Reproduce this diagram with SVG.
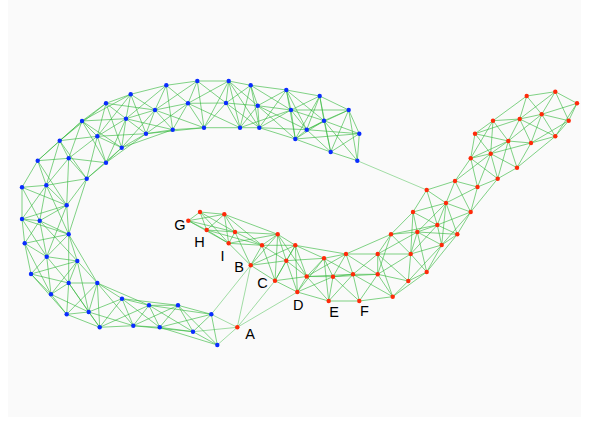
<svg xmlns="http://www.w3.org/2000/svg" width="589" height="425" viewBox="0 0 589 425">
<style>
.e line{stroke:#34b83c;stroke-opacity:0.62;stroke-width:1}
.x line{stroke:#34b83c;stroke-opacity:0.45;stroke-width:1}
.bn{fill:#0a2cff}
.rn{fill:#ff2a0a}
.lb{font-family:"Liberation Sans",Arial,sans-serif;font-size:14.5px;fill:#000;text-anchor:middle}
</style>
<rect x="0" y="0" width="589" height="425" fill="#ffffff"/>
<rect x="8" y="0" width="573" height="417" fill="#fafafa"/>
<g id="connectors">
<g class="e">
<line x1="357.3" y1="160.7" x2="359.3" y2="133.7"/>
<line x1="357.3" y1="160.7" x2="330.7" y2="152"/>
<line x1="357.3" y1="160.7" x2="324" y2="120.7"/>
<line x1="357.3" y1="160.7" x2="348.7" y2="110"/>
<line x1="359.3" y1="133.7" x2="348.7" y2="110"/>
<line x1="359.3" y1="133.7" x2="330.7" y2="152"/>
<line x1="359.3" y1="133.7" x2="324" y2="120.7"/>
<line x1="359.3" y1="133.7" x2="306.7" y2="129.7"/>
<line x1="359.3" y1="133.7" x2="295.3" y2="139"/>
<line x1="348.7" y1="110" x2="324" y2="120.7"/>
<line x1="348.7" y1="110" x2="319.7" y2="96"/>
<line x1="348.7" y1="110" x2="306.7" y2="129.7"/>
<line x1="348.7" y1="110" x2="330.7" y2="152"/>
<line x1="348.7" y1="110" x2="291" y2="110"/>
<line x1="330.7" y1="152" x2="324" y2="120.7"/>
<line x1="330.7" y1="152" x2="306.7" y2="129.7"/>
<line x1="330.7" y1="152" x2="295.3" y2="139"/>
<line x1="330.7" y1="152" x2="319.7" y2="96"/>
<line x1="324" y1="120.7" x2="319.7" y2="96"/>
<line x1="324" y1="120.7" x2="306.7" y2="129.7"/>
<line x1="324" y1="120.7" x2="295.3" y2="139"/>
<line x1="324" y1="120.7" x2="291" y2="110"/>
<line x1="324" y1="120.7" x2="286.3" y2="90"/>
<line x1="319.7" y1="96" x2="306.7" y2="129.7"/>
<line x1="319.7" y1="96" x2="291" y2="110"/>
<line x1="319.7" y1="96" x2="286.3" y2="90"/>
<line x1="319.7" y1="96" x2="295.3" y2="139"/>
<line x1="306.7" y1="129.7" x2="295.3" y2="139"/>
<line x1="306.7" y1="129.7" x2="291" y2="110"/>
<line x1="306.7" y1="129.7" x2="286.3" y2="90"/>
<line x1="306.7" y1="129.7" x2="259.3" y2="127.7"/>
<line x1="306.7" y1="129.7" x2="257.7" y2="105.7"/>
<line x1="295.3" y1="139" x2="291" y2="110"/>
<line x1="295.3" y1="139" x2="259.3" y2="127.7"/>
<line x1="295.3" y1="139" x2="257.7" y2="105.7"/>
<line x1="295.3" y1="139" x2="286.3" y2="90"/>
<line x1="291" y1="110" x2="286.3" y2="90"/>
<line x1="291" y1="110" x2="259.3" y2="127.7"/>
<line x1="291" y1="110" x2="257.7" y2="105.7"/>
<line x1="291" y1="110" x2="250.7" y2="85.3"/>
<line x1="291" y1="110" x2="240" y2="127.7"/>
<line x1="286.3" y1="90" x2="257.7" y2="105.7"/>
<line x1="286.3" y1="90" x2="250.7" y2="85.3"/>
<line x1="286.3" y1="90" x2="259.3" y2="127.7"/>
<line x1="259.3" y1="127.7" x2="257.7" y2="105.7"/>
<line x1="259.3" y1="127.7" x2="250.7" y2="85.3"/>
<line x1="259.3" y1="127.7" x2="240" y2="127.7"/>
<line x1="259.3" y1="127.7" x2="226" y2="103"/>
<line x1="259.3" y1="127.7" x2="228.7" y2="81"/>
<line x1="257.7" y1="105.7" x2="250.7" y2="85.3"/>
<line x1="257.7" y1="105.7" x2="240" y2="127.7"/>
<line x1="257.7" y1="105.7" x2="228.7" y2="81"/>
<line x1="257.7" y1="105.7" x2="226" y2="103"/>
<line x1="250.7" y1="85.3" x2="228.7" y2="81"/>
<line x1="250.7" y1="85.3" x2="226" y2="103"/>
<line x1="250.7" y1="85.3" x2="240" y2="127.7"/>
<line x1="240" y1="127.7" x2="226" y2="103"/>
<line x1="240" y1="127.7" x2="228.7" y2="81"/>
<line x1="240" y1="127.7" x2="204" y2="127.7"/>
<line x1="240" y1="127.7" x2="188" y2="103.3"/>
<line x1="228.7" y1="81" x2="226" y2="103"/>
<line x1="228.7" y1="81" x2="197.3" y2="81"/>
<line x1="228.7" y1="81" x2="188" y2="103.3"/>
<line x1="228.7" y1="81" x2="204" y2="127.7"/>
<line x1="226" y1="103" x2="204" y2="127.7"/>
<line x1="226" y1="103" x2="197.3" y2="81"/>
<line x1="226" y1="103" x2="188" y2="103.3"/>
<line x1="204" y1="127.7" x2="197.3" y2="81"/>
<line x1="204" y1="127.7" x2="188" y2="103.3"/>
<line x1="204" y1="127.7" x2="172.7" y2="129.7"/>
<line x1="204" y1="127.7" x2="155" y2="110"/>
<line x1="204" y1="127.7" x2="146" y2="133.7"/>
<line x1="197.3" y1="81" x2="188" y2="103.3"/>
<line x1="197.3" y1="81" x2="166.3" y2="85.3"/>
<line x1="197.3" y1="81" x2="155" y2="110"/>
<line x1="188" y1="103.3" x2="172.7" y2="129.7"/>
<line x1="188" y1="103.3" x2="166.3" y2="85.3"/>
<line x1="188" y1="103.3" x2="155" y2="110"/>
<line x1="188" y1="103.3" x2="146" y2="133.7"/>
<line x1="172.7" y1="129.7" x2="166.3" y2="85.3"/>
<line x1="172.7" y1="129.7" x2="155" y2="110"/>
<line x1="172.7" y1="129.7" x2="146" y2="133.7"/>
<line x1="172.7" y1="129.7" x2="126" y2="118.7"/>
<line x1="172.7" y1="129.7" x2="121.7" y2="147.7"/>
<line x1="166.3" y1="85.3" x2="155" y2="110"/>
<line x1="166.3" y1="85.3" x2="130.7" y2="94.3"/>
<line x1="166.3" y1="85.3" x2="126" y2="118.7"/>
<line x1="155" y1="110" x2="146" y2="133.7"/>
<line x1="155" y1="110" x2="130.7" y2="94.3"/>
<line x1="155" y1="110" x2="126" y2="118.7"/>
<line x1="155" y1="110" x2="121.7" y2="147.7"/>
<line x1="155" y1="110" x2="106" y2="103.3"/>
<line x1="146" y1="133.7" x2="126" y2="118.7"/>
<line x1="146" y1="133.7" x2="121.7" y2="147.7"/>
<line x1="146" y1="133.7" x2="130.7" y2="94.3"/>
<line x1="146" y1="133.7" x2="106" y2="162.7"/>
<line x1="146" y1="133.7" x2="97.3" y2="136.3"/>
<line x1="130.7" y1="94.3" x2="126" y2="118.7"/>
<line x1="130.7" y1="94.3" x2="106" y2="103.3"/>
<line x1="130.7" y1="94.3" x2="97.3" y2="136.3"/>
<line x1="130.7" y1="94.3" x2="82" y2="121"/>
<line x1="126" y1="118.7" x2="121.7" y2="147.7"/>
<line x1="126" y1="118.7" x2="106" y2="103.3"/>
<line x1="126" y1="118.7" x2="97.3" y2="136.3"/>
<line x1="126" y1="118.7" x2="106" y2="162.7"/>
<line x1="126" y1="118.7" x2="82" y2="121"/>
<line x1="121.7" y1="147.7" x2="97.3" y2="136.3"/>
<line x1="121.7" y1="147.7" x2="106" y2="162.7"/>
<line x1="121.7" y1="147.7" x2="106" y2="103.3"/>
<line x1="121.7" y1="147.7" x2="86.7" y2="178.7"/>
<line x1="121.7" y1="147.7" x2="82" y2="121"/>
<line x1="106" y1="103.3" x2="97.3" y2="136.3"/>
<line x1="106" y1="103.3" x2="82" y2="121"/>
<line x1="106" y1="103.3" x2="59.7" y2="140.7"/>
<line x1="97.3" y1="136.3" x2="106" y2="162.7"/>
<line x1="97.3" y1="136.3" x2="82" y2="121"/>
<line x1="97.3" y1="136.3" x2="68.7" y2="158.3"/>
<line x1="97.3" y1="136.3" x2="59.7" y2="140.7"/>
<line x1="97.3" y1="136.3" x2="86.7" y2="178.7"/>
<line x1="106" y1="162.7" x2="68.7" y2="158.3"/>
<line x1="106" y1="162.7" x2="86.7" y2="178.7"/>
<line x1="106" y1="162.7" x2="82" y2="121"/>
<line x1="82" y1="121" x2="68.7" y2="158.3"/>
<line x1="82" y1="121" x2="59.7" y2="140.7"/>
<line x1="82" y1="121" x2="37.7" y2="160.7"/>
<line x1="68.7" y1="158.3" x2="59.7" y2="140.7"/>
<line x1="68.7" y1="158.3" x2="86.7" y2="178.7"/>
<line x1="68.7" y1="158.3" x2="37.7" y2="160.7"/>
<line x1="68.7" y1="158.3" x2="46.3" y2="185.3"/>
<line x1="68.7" y1="158.3" x2="66.7" y2="205.3"/>
<line x1="59.7" y1="140.7" x2="37.7" y2="160.7"/>
<line x1="59.7" y1="140.7" x2="46.3" y2="185.3"/>
<line x1="59.7" y1="140.7" x2="86.7" y2="178.7"/>
<line x1="86.7" y1="178.7" x2="46.3" y2="185.3"/>
<line x1="86.7" y1="178.7" x2="66.7" y2="205.3"/>
<line x1="86.7" y1="178.7" x2="68.7" y2="234.3"/>
<line x1="37.7" y1="160.7" x2="46.3" y2="185.3"/>
<line x1="37.7" y1="160.7" x2="22" y2="187.3"/>
<line x1="37.7" y1="160.7" x2="66.7" y2="205.3"/>
<line x1="46.3" y1="185.3" x2="22" y2="187.3"/>
<line x1="46.3" y1="185.3" x2="66.7" y2="205.3"/>
<line x1="46.3" y1="185.3" x2="22" y2="219"/>
<line x1="46.3" y1="185.3" x2="39.7" y2="220.7"/>
<line x1="46.3" y1="185.3" x2="68.7" y2="234.3"/>
<line x1="22" y1="187.3" x2="66.7" y2="205.3"/>
<line x1="22" y1="187.3" x2="22" y2="219"/>
<line x1="22" y1="187.3" x2="39.7" y2="220.7"/>
<line x1="66.7" y1="205.3" x2="22" y2="219"/>
<line x1="66.7" y1="205.3" x2="39.7" y2="220.7"/>
<line x1="66.7" y1="205.3" x2="68.7" y2="234.3"/>
<line x1="66.7" y1="205.3" x2="46.7" y2="256.7"/>
<line x1="22" y1="219" x2="39.7" y2="220.7"/>
<line x1="22" y1="219" x2="68.7" y2="234.3"/>
<line x1="22" y1="219" x2="24.7" y2="243.3"/>
<line x1="22" y1="219" x2="46.7" y2="256.7"/>
<line x1="39.7" y1="220.7" x2="68.7" y2="234.3"/>
<line x1="39.7" y1="220.7" x2="24.7" y2="243.3"/>
<line x1="39.7" y1="220.7" x2="46.7" y2="256.7"/>
<line x1="39.7" y1="220.7" x2="77.3" y2="261"/>
<line x1="68.7" y1="234.3" x2="24.7" y2="243.3"/>
<line x1="68.7" y1="234.3" x2="46.7" y2="256.7"/>
<line x1="68.7" y1="234.3" x2="77.3" y2="261"/>
<line x1="68.7" y1="234.3" x2="68.7" y2="283"/>
<line x1="68.7" y1="234.3" x2="97.3" y2="283"/>
<line x1="24.7" y1="243.3" x2="46.7" y2="256.7"/>
<line x1="24.7" y1="243.3" x2="31" y2="274"/>
<line x1="24.7" y1="243.3" x2="51" y2="294.3"/>
<line x1="46.7" y1="256.7" x2="77.3" y2="261"/>
<line x1="46.7" y1="256.7" x2="31" y2="274"/>
<line x1="46.7" y1="256.7" x2="68.7" y2="283"/>
<line x1="46.7" y1="256.7" x2="51" y2="294.3"/>
<line x1="77.3" y1="261" x2="68.7" y2="283"/>
<line x1="77.3" y1="261" x2="97.3" y2="283"/>
<line x1="77.3" y1="261" x2="31" y2="274"/>
<line x1="77.3" y1="261" x2="51" y2="294.3"/>
<line x1="77.3" y1="261" x2="88.7" y2="312"/>
<line x1="31" y1="274" x2="68.7" y2="283"/>
<line x1="31" y1="274" x2="51" y2="294.3"/>
<line x1="31" y1="274" x2="66.7" y2="314.3"/>
<line x1="68.7" y1="283" x2="97.3" y2="283"/>
<line x1="68.7" y1="283" x2="51" y2="294.3"/>
<line x1="68.7" y1="283" x2="88.7" y2="312"/>
<line x1="68.7" y1="283" x2="66.7" y2="314.3"/>
<line x1="68.7" y1="283" x2="99.7" y2="327.3"/>
<line x1="97.3" y1="283" x2="88.7" y2="312"/>
<line x1="97.3" y1="283" x2="66.7" y2="314.3"/>
<line x1="97.3" y1="283" x2="99.7" y2="327.3"/>
<line x1="97.3" y1="283" x2="122" y2="298.7"/>
<line x1="97.3" y1="283" x2="133.3" y2="325.7"/>
<line x1="97.3" y1="283" x2="149" y2="305.3"/>
<line x1="51" y1="294.3" x2="88.7" y2="312"/>
<line x1="51" y1="294.3" x2="66.7" y2="314.3"/>
<line x1="88.7" y1="312" x2="66.7" y2="314.3"/>
<line x1="88.7" y1="312" x2="99.7" y2="327.3"/>
<line x1="88.7" y1="312" x2="122" y2="298.7"/>
<line x1="88.7" y1="312" x2="133.3" y2="325.7"/>
<line x1="66.7" y1="314.3" x2="99.7" y2="327.3"/>
<line x1="99.7" y1="327.3" x2="122" y2="298.7"/>
<line x1="99.7" y1="327.3" x2="133.3" y2="325.7"/>
<line x1="99.7" y1="327.3" x2="149" y2="305.3"/>
<line x1="122" y1="298.7" x2="133.3" y2="325.7"/>
<line x1="122" y1="298.7" x2="149" y2="305.3"/>
<line x1="122" y1="298.7" x2="159.7" y2="327.3"/>
<line x1="122" y1="298.7" x2="178" y2="305.3"/>
<line x1="133.3" y1="325.7" x2="149" y2="305.3"/>
<line x1="133.3" y1="325.7" x2="159.7" y2="327.3"/>
<line x1="133.3" y1="325.7" x2="178" y2="305.3"/>
<line x1="133.3" y1="325.7" x2="193" y2="331.7"/>
<line x1="149" y1="305.3" x2="159.7" y2="327.3"/>
<line x1="149" y1="305.3" x2="178" y2="305.3"/>
<line x1="149" y1="305.3" x2="193" y2="331.7"/>
<line x1="149" y1="305.3" x2="211.3" y2="314.3"/>
<line x1="159.7" y1="327.3" x2="178" y2="305.3"/>
<line x1="159.7" y1="327.3" x2="193" y2="331.7"/>
<line x1="159.7" y1="327.3" x2="211.3" y2="314.3"/>
<line x1="159.7" y1="327.3" x2="217.3" y2="345"/>
<line x1="178" y1="305.3" x2="193" y2="331.7"/>
<line x1="178" y1="305.3" x2="211.3" y2="314.3"/>
<line x1="178" y1="305.3" x2="217.3" y2="345"/>
<line x1="193" y1="331.7" x2="211.3" y2="314.3"/>
<line x1="193" y1="331.7" x2="217.3" y2="345"/>
<line x1="211.3" y1="314.3" x2="217.3" y2="345"/>
</g>
<g class="x">
<line x1="357.3" y1="160.7" x2="426.7" y2="190"/>
<line x1="237.3" y1="327.3" x2="193" y2="331.7"/>
<line x1="237.3" y1="327.3" x2="211.3" y2="314.3"/>
<line x1="237.3" y1="327.3" x2="217.3" y2="345"/>
<line x1="237.3" y1="327.3" x2="250.7" y2="265.3"/>
<line x1="237.3" y1="327.3" x2="275" y2="280.7"/>
<line x1="237.3" y1="327.3" x2="297.3" y2="292"/>
<line x1="211.3" y1="314.3" x2="250.7" y2="265.3"/>
</g>
<g class="e">
<line x1="188.3" y1="220.7" x2="200" y2="212"/>
<line x1="188.3" y1="220.7" x2="206.7" y2="230"/>
<line x1="188.3" y1="220.7" x2="224.3" y2="214.3"/>
<line x1="188.3" y1="220.7" x2="228.7" y2="243.3"/>
<line x1="188.3" y1="220.7" x2="235" y2="232"/>
<line x1="200" y1="212" x2="224.3" y2="214.3"/>
<line x1="200" y1="212" x2="206.7" y2="230"/>
<line x1="200" y1="212" x2="235" y2="232"/>
<line x1="200" y1="212" x2="228.7" y2="243.3"/>
<line x1="224.3" y1="214.3" x2="206.7" y2="230"/>
<line x1="224.3" y1="214.3" x2="235" y2="232"/>
<line x1="224.3" y1="214.3" x2="228.7" y2="243.3"/>
<line x1="224.3" y1="214.3" x2="262" y2="245.3"/>
<line x1="224.3" y1="214.3" x2="277.7" y2="234.3"/>
<line x1="206.7" y1="230" x2="235" y2="232"/>
<line x1="206.7" y1="230" x2="228.7" y2="243.3"/>
<line x1="206.7" y1="230" x2="262" y2="245.3"/>
<line x1="235" y1="232" x2="228.7" y2="243.3"/>
<line x1="235" y1="232" x2="262" y2="245.3"/>
<line x1="235" y1="232" x2="277.7" y2="234.3"/>
<line x1="235" y1="232" x2="250.7" y2="265.3"/>
<line x1="228.7" y1="243.3" x2="262" y2="245.3"/>
<line x1="228.7" y1="243.3" x2="250.7" y2="265.3"/>
<line x1="228.7" y1="243.3" x2="277.7" y2="234.3"/>
<line x1="262" y1="245.3" x2="277.7" y2="234.3"/>
<line x1="262" y1="245.3" x2="250.7" y2="265.3"/>
<line x1="262" y1="245.3" x2="295.3" y2="245.3"/>
<line x1="262" y1="245.3" x2="286.3" y2="260.7"/>
<line x1="262" y1="245.3" x2="275" y2="280.7"/>
<line x1="277.7" y1="234.3" x2="295.3" y2="245.3"/>
<line x1="277.7" y1="234.3" x2="286.3" y2="260.7"/>
<line x1="277.7" y1="234.3" x2="250.7" y2="265.3"/>
<line x1="277.7" y1="234.3" x2="275" y2="280.7"/>
<line x1="277.7" y1="234.3" x2="306.7" y2="276.5"/>
<line x1="250.7" y1="265.3" x2="275" y2="280.7"/>
<line x1="250.7" y1="265.3" x2="286.3" y2="260.7"/>
<line x1="250.7" y1="265.3" x2="295.3" y2="245.3"/>
<line x1="295.3" y1="245.3" x2="286.3" y2="260.7"/>
<line x1="295.3" y1="245.3" x2="306.7" y2="276.5"/>
<line x1="295.3" y1="245.3" x2="324" y2="258.3"/>
<line x1="295.3" y1="245.3" x2="275" y2="280.7"/>
<line x1="295.3" y1="245.3" x2="297.3" y2="292"/>
<line x1="295.3" y1="245.3" x2="346" y2="254"/>
<line x1="286.3" y1="260.7" x2="275" y2="280.7"/>
<line x1="286.3" y1="260.7" x2="306.7" y2="276.5"/>
<line x1="286.3" y1="260.7" x2="297.3" y2="292"/>
<line x1="286.3" y1="260.7" x2="324" y2="258.3"/>
<line x1="275" y1="280.7" x2="297.3" y2="292"/>
<line x1="275" y1="280.7" x2="306.7" y2="276.5"/>
<line x1="306.7" y1="276.5" x2="297.3" y2="292"/>
<line x1="306.7" y1="276.5" x2="324" y2="258.3"/>
<line x1="306.7" y1="276.5" x2="333" y2="276.7"/>
<line x1="306.7" y1="276.5" x2="328.7" y2="301"/>
<line x1="306.7" y1="276.5" x2="346" y2="254"/>
<line x1="306.7" y1="276.5" x2="353" y2="274.3"/>
<line x1="297.3" y1="292" x2="328.7" y2="301"/>
<line x1="297.3" y1="292" x2="333" y2="276.7"/>
<line x1="297.3" y1="292" x2="324" y2="258.3"/>
<line x1="324" y1="258.3" x2="333" y2="276.7"/>
<line x1="324" y1="258.3" x2="346" y2="254"/>
<line x1="324" y1="258.3" x2="353" y2="274.3"/>
<line x1="324" y1="258.3" x2="328.7" y2="301"/>
<line x1="333" y1="276.7" x2="328.7" y2="301"/>
<line x1="333" y1="276.7" x2="346" y2="254"/>
<line x1="333" y1="276.7" x2="353" y2="274.3"/>
<line x1="333" y1="276.7" x2="359.3" y2="301"/>
<line x1="333" y1="276.7" x2="377.7" y2="274.3"/>
<line x1="328.7" y1="301" x2="359.3" y2="301"/>
<line x1="328.7" y1="301" x2="353" y2="274.3"/>
<line x1="346" y1="254" x2="353" y2="274.3"/>
<line x1="346" y1="254" x2="377.7" y2="254"/>
<line x1="346" y1="254" x2="377.7" y2="274.3"/>
<line x1="346" y1="254" x2="391" y2="234.3"/>
<line x1="353" y1="274.3" x2="359.3" y2="301"/>
<line x1="353" y1="274.3" x2="377.7" y2="254"/>
<line x1="353" y1="274.3" x2="377.7" y2="274.3"/>
<line x1="353" y1="274.3" x2="392.7" y2="296.7"/>
<line x1="359.3" y1="301" x2="377.7" y2="274.3"/>
<line x1="359.3" y1="301" x2="392.7" y2="296.7"/>
<line x1="377.7" y1="254" x2="377.7" y2="274.3"/>
<line x1="377.7" y1="254" x2="391" y2="234.3"/>
<line x1="377.7" y1="254" x2="410.7" y2="254"/>
<line x1="377.7" y1="254" x2="408.3" y2="281"/>
<line x1="377.7" y1="254" x2="392.7" y2="296.7"/>
<line x1="377.7" y1="254" x2="417.3" y2="232"/>
<line x1="377.7" y1="274.3" x2="392.7" y2="296.7"/>
<line x1="377.7" y1="274.3" x2="410.7" y2="254"/>
<line x1="377.7" y1="274.3" x2="408.3" y2="281"/>
<line x1="377.7" y1="274.3" x2="391" y2="234.3"/>
<line x1="392.7" y1="296.7" x2="408.3" y2="281"/>
<line x1="392.7" y1="296.7" x2="426.7" y2="272"/>
<line x1="391" y1="234.3" x2="410.7" y2="254"/>
<line x1="391" y1="234.3" x2="413" y2="212"/>
<line x1="391" y1="234.3" x2="417.3" y2="232"/>
<line x1="391" y1="234.3" x2="437.3" y2="225"/>
<line x1="410.7" y1="254" x2="408.3" y2="281"/>
<line x1="410.7" y1="254" x2="417.3" y2="232"/>
<line x1="410.7" y1="254" x2="426.7" y2="272"/>
<line x1="410.7" y1="254" x2="441.7" y2="245"/>
<line x1="410.7" y1="254" x2="437.3" y2="225"/>
<line x1="410.7" y1="254" x2="413" y2="212"/>
<line x1="408.3" y1="281" x2="426.7" y2="272"/>
<line x1="408.3" y1="281" x2="441.7" y2="245"/>
<line x1="413" y1="212" x2="417.3" y2="232"/>
<line x1="413" y1="212" x2="426.7" y2="190"/>
<line x1="413" y1="212" x2="437.3" y2="225"/>
<line x1="413" y1="212" x2="446" y2="203"/>
<line x1="417.3" y1="232" x2="437.3" y2="225"/>
<line x1="417.3" y1="232" x2="441.7" y2="245"/>
<line x1="417.3" y1="232" x2="457.3" y2="234.3"/>
<line x1="417.3" y1="232" x2="446" y2="203"/>
<line x1="417.3" y1="232" x2="426.7" y2="272"/>
<line x1="426.7" y1="272" x2="441.7" y2="245"/>
<line x1="426.7" y1="272" x2="457.3" y2="234.3"/>
<line x1="441.7" y1="245" x2="457.3" y2="234.3"/>
<line x1="441.7" y1="245" x2="437.3" y2="225"/>
<line x1="441.7" y1="245" x2="470.7" y2="212"/>
<line x1="441.7" y1="245" x2="446" y2="203"/>
<line x1="426.7" y1="190" x2="455" y2="181"/>
<line x1="426.7" y1="190" x2="446" y2="203"/>
<line x1="426.7" y1="190" x2="437.3" y2="225"/>
<line x1="437.3" y1="225" x2="446" y2="203"/>
<line x1="437.3" y1="225" x2="457.3" y2="234.3"/>
<line x1="437.3" y1="225" x2="470.7" y2="212"/>
<line x1="457.3" y1="234.3" x2="470.7" y2="212"/>
<line x1="457.3" y1="234.3" x2="446" y2="203"/>
<line x1="446" y1="203" x2="455" y2="181"/>
<line x1="446" y1="203" x2="470.7" y2="212"/>
<line x1="446" y1="203" x2="477.5" y2="187"/>
<line x1="455" y1="181" x2="477.5" y2="187"/>
<line x1="455" y1="181" x2="470.7" y2="158.3"/>
<line x1="455" y1="181" x2="470.7" y2="212"/>
<line x1="455" y1="181" x2="490.7" y2="153.7"/>
<line x1="470.7" y1="212" x2="477.5" y2="187"/>
<line x1="470.7" y1="212" x2="497.7" y2="178.7"/>
<line x1="477.5" y1="187" x2="470.7" y2="158.3"/>
<line x1="477.5" y1="187" x2="497.7" y2="178.7"/>
<line x1="477.5" y1="187" x2="490.7" y2="153.7"/>
<line x1="470.7" y1="158.3" x2="490.7" y2="153.7"/>
<line x1="470.7" y1="158.3" x2="475" y2="133.7"/>
<line x1="470.7" y1="158.3" x2="497.7" y2="178.7"/>
<line x1="470.7" y1="158.3" x2="508.3" y2="141"/>
<line x1="470.7" y1="158.3" x2="493" y2="120.7"/>
<line x1="497.7" y1="178.7" x2="490.7" y2="153.7"/>
<line x1="497.7" y1="178.7" x2="517" y2="167.7"/>
<line x1="497.7" y1="178.7" x2="508.3" y2="141"/>
<line x1="490.7" y1="153.7" x2="475" y2="133.7"/>
<line x1="490.7" y1="153.7" x2="508.3" y2="141"/>
<line x1="490.7" y1="153.7" x2="517" y2="167.7"/>
<line x1="490.7" y1="153.7" x2="493" y2="120.7"/>
<line x1="490.7" y1="153.7" x2="531" y2="143"/>
<line x1="475" y1="133.7" x2="493" y2="120.7"/>
<line x1="475" y1="133.7" x2="508.3" y2="141"/>
<line x1="475" y1="133.7" x2="519.7" y2="119"/>
<line x1="517" y1="167.7" x2="508.3" y2="141"/>
<line x1="517" y1="167.7" x2="531" y2="143"/>
<line x1="517" y1="167.7" x2="555.3" y2="136.3"/>
<line x1="508.3" y1="141" x2="493" y2="120.7"/>
<line x1="508.3" y1="141" x2="531" y2="143"/>
<line x1="508.3" y1="141" x2="519.7" y2="119"/>
<line x1="508.3" y1="141" x2="541.7" y2="114.3"/>
<line x1="493" y1="120.7" x2="519.7" y2="119"/>
<line x1="493" y1="120.7" x2="526.7" y2="96"/>
<line x1="531" y1="143" x2="519.7" y2="119"/>
<line x1="531" y1="143" x2="555.3" y2="136.3"/>
<line x1="531" y1="143" x2="541.7" y2="114.3"/>
<line x1="531" y1="143" x2="568.7" y2="120.7"/>
<line x1="519.7" y1="119" x2="541.7" y2="114.3"/>
<line x1="519.7" y1="119" x2="526.7" y2="96"/>
<line x1="519.7" y1="119" x2="555.3" y2="136.3"/>
<line x1="519.7" y1="119" x2="555.3" y2="91.7"/>
<line x1="555.3" y1="136.3" x2="541.7" y2="114.3"/>
<line x1="555.3" y1="136.3" x2="568.7" y2="120.7"/>
<line x1="555.3" y1="136.3" x2="577" y2="103.3"/>
<line x1="541.7" y1="114.3" x2="526.7" y2="96"/>
<line x1="541.7" y1="114.3" x2="568.7" y2="120.7"/>
<line x1="541.7" y1="114.3" x2="555.3" y2="91.7"/>
<line x1="541.7" y1="114.3" x2="577" y2="103.3"/>
<line x1="526.7" y1="96" x2="555.3" y2="91.7"/>
<line x1="568.7" y1="120.7" x2="577" y2="103.3"/>
<line x1="568.7" y1="120.7" x2="555.3" y2="91.7"/>
<line x1="555.3" y1="91.7" x2="577" y2="103.3"/>
</g>
</g>
<g id="blue-nodes" class="bn">
<g id="b1"><circle cx="357.3" cy="160.7" r="2.2"/></g>
<g id="b2"><circle cx="359.3" cy="133.7" r="2.2"/></g>
<g id="b3"><circle cx="348.7" cy="110" r="2.2"/></g>
<g id="b4"><circle cx="330.7" cy="152" r="2.2"/></g>
<g id="b5"><circle cx="324" cy="120.7" r="2.2"/></g>
<g id="b6"><circle cx="319.7" cy="96" r="2.2"/></g>
<g id="b7"><circle cx="306.7" cy="129.7" r="2.2"/></g>
<g id="b8"><circle cx="295.3" cy="139" r="2.2"/></g>
<g id="b9"><circle cx="291" cy="110" r="2.2"/></g>
<g id="b10"><circle cx="286.3" cy="90" r="2.2"/></g>
<g id="b11"><circle cx="259.3" cy="127.7" r="2.2"/></g>
<g id="b12"><circle cx="257.7" cy="105.7" r="2.2"/></g>
<g id="b13"><circle cx="250.7" cy="85.3" r="2.2"/></g>
<g id="b14"><circle cx="240" cy="127.7" r="2.2"/></g>
<g id="b15"><circle cx="228.7" cy="81" r="2.2"/></g>
<g id="b16"><circle cx="226" cy="103" r="2.2"/></g>
<g id="b17"><circle cx="204" cy="127.7" r="2.2"/></g>
<g id="b18"><circle cx="197.3" cy="81" r="2.2"/></g>
<g id="b19"><circle cx="188" cy="103.3" r="2.2"/></g>
<g id="b20"><circle cx="172.7" cy="129.7" r="2.2"/></g>
<g id="b21"><circle cx="166.3" cy="85.3" r="2.2"/></g>
<g id="b22"><circle cx="155" cy="110" r="2.2"/></g>
<g id="b23"><circle cx="146" cy="133.7" r="2.2"/></g>
<g id="b24"><circle cx="130.7" cy="94.3" r="2.2"/></g>
<g id="b25"><circle cx="126" cy="118.7" r="2.2"/></g>
<g id="b26"><circle cx="121.7" cy="147.7" r="2.2"/></g>
<g id="b27"><circle cx="106" cy="103.3" r="2.2"/></g>
<g id="b28"><circle cx="97.3" cy="136.3" r="2.2"/></g>
<g id="b29"><circle cx="106" cy="162.7" r="2.2"/></g>
<g id="b30"><circle cx="82" cy="121" r="2.2"/></g>
<g id="b31"><circle cx="68.7" cy="158.3" r="2.2"/></g>
<g id="b32"><circle cx="59.7" cy="140.7" r="2.2"/></g>
<g id="b33"><circle cx="86.7" cy="178.7" r="2.2"/></g>
<g id="b34"><circle cx="37.7" cy="160.7" r="2.2"/></g>
<g id="b35"><circle cx="46.3" cy="185.3" r="2.2"/></g>
<g id="b36"><circle cx="22" cy="187.3" r="2.2"/></g>
<g id="b37"><circle cx="66.7" cy="205.3" r="2.2"/></g>
<g id="b38"><circle cx="22" cy="219" r="2.2"/></g>
<g id="b39"><circle cx="39.7" cy="220.7" r="2.2"/></g>
<g id="b40"><circle cx="68.7" cy="234.3" r="2.2"/></g>
<g id="b41"><circle cx="24.7" cy="243.3" r="2.2"/></g>
<g id="b42"><circle cx="46.7" cy="256.7" r="2.2"/></g>
<g id="b43"><circle cx="77.3" cy="261" r="2.2"/></g>
<g id="b44"><circle cx="31" cy="274" r="2.2"/></g>
<g id="b45"><circle cx="68.7" cy="283" r="2.2"/></g>
<g id="b46"><circle cx="97.3" cy="283" r="2.2"/></g>
<g id="b47"><circle cx="51" cy="294.3" r="2.2"/></g>
<g id="b48"><circle cx="88.7" cy="312" r="2.2"/></g>
<g id="b49"><circle cx="66.7" cy="314.3" r="2.2"/></g>
<g id="b50"><circle cx="99.7" cy="327.3" r="2.2"/></g>
<g id="b51"><circle cx="122" cy="298.7" r="2.2"/></g>
<g id="b52"><circle cx="133.3" cy="325.7" r="2.2"/></g>
<g id="b53"><circle cx="149" cy="305.3" r="2.2"/></g>
<g id="b54"><circle cx="159.7" cy="327.3" r="2.2"/></g>
<g id="b55"><circle cx="178" cy="305.3" r="2.2"/></g>
<g id="b56"><circle cx="193" cy="331.7" r="2.2"/></g>
<g id="b57"><circle cx="211.3" cy="314.3" r="2.2"/></g>
<g id="b58"><circle cx="217.3" cy="345" r="2.2"/></g>
</g>
<g id="red-nodes" class="rn">
<g id="nA"><circle cx="237.3" cy="327.3" r="2.2"/></g>
<g id="nG"><circle cx="188.3" cy="220.7" r="2.2"/></g>
<g id="r1"><circle cx="200" cy="212" r="2.2"/></g>
<g id="r2"><circle cx="224.3" cy="214.3" r="2.2"/></g>
<g id="nH"><circle cx="206.7" cy="230" r="2.2"/></g>
<g id="r3"><circle cx="235" cy="232" r="2.2"/></g>
<g id="nI"><circle cx="228.7" cy="243.3" r="2.2"/></g>
<g id="r4"><circle cx="262" cy="245.3" r="2.2"/></g>
<g id="r5"><circle cx="277.7" cy="234.3" r="2.2"/></g>
<g id="nB"><circle cx="250.7" cy="265.3" r="2.2"/></g>
<g id="r6"><circle cx="295.3" cy="245.3" r="2.2"/></g>
<g id="r7"><circle cx="286.3" cy="260.7" r="2.2"/></g>
<g id="nC"><circle cx="275" cy="280.7" r="2.2"/></g>
<g id="r8"><circle cx="306.7" cy="276.5" r="2.2"/></g>
<g id="nD"><circle cx="297.3" cy="292" r="2.2"/></g>
<g id="r9"><circle cx="324" cy="258.3" r="2.2"/></g>
<g id="r10"><circle cx="333" cy="276.7" r="2.2"/></g>
<g id="nE"><circle cx="328.7" cy="301" r="2.2"/></g>
<g id="r11"><circle cx="346" cy="254" r="2.2"/></g>
<g id="r12"><circle cx="353" cy="274.3" r="2.2"/></g>
<g id="nF"><circle cx="359.3" cy="301" r="2.2"/></g>
<g id="r13"><circle cx="377.7" cy="254" r="2.2"/></g>
<g id="r14"><circle cx="377.7" cy="274.3" r="2.2"/></g>
<g id="r15"><circle cx="392.7" cy="296.7" r="2.2"/></g>
<g id="r16"><circle cx="391" cy="234.3" r="2.2"/></g>
<g id="r17"><circle cx="410.7" cy="254" r="2.2"/></g>
<g id="r18"><circle cx="408.3" cy="281" r="2.2"/></g>
<g id="r19"><circle cx="413" cy="212" r="2.2"/></g>
<g id="r20"><circle cx="417.3" cy="232" r="2.2"/></g>
<g id="r21"><circle cx="426.7" cy="272" r="2.2"/></g>
<g id="r22"><circle cx="441.7" cy="245" r="2.2"/></g>
<g id="r23"><circle cx="426.7" cy="190" r="2.2"/></g>
<g id="r24"><circle cx="437.3" cy="225" r="2.2"/></g>
<g id="r25"><circle cx="457.3" cy="234.3" r="2.2"/></g>
<g id="r26"><circle cx="446" cy="203" r="2.2"/></g>
<g id="r27"><circle cx="455" cy="181" r="2.2"/></g>
<g id="r28"><circle cx="470.7" cy="212" r="2.2"/></g>
<g id="r29"><circle cx="477.5" cy="187" r="2.2"/></g>
<g id="r30"><circle cx="470.7" cy="158.3" r="2.2"/></g>
<g id="r31"><circle cx="497.7" cy="178.7" r="2.2"/></g>
<g id="r32"><circle cx="490.7" cy="153.7" r="2.2"/></g>
<g id="r33"><circle cx="475" cy="133.7" r="2.2"/></g>
<g id="r34"><circle cx="517" cy="167.7" r="2.2"/></g>
<g id="r35"><circle cx="508.3" cy="141" r="2.2"/></g>
<g id="r36"><circle cx="493" cy="120.7" r="2.2"/></g>
<g id="r37"><circle cx="531" cy="143" r="2.2"/></g>
<g id="r38"><circle cx="519.7" cy="119" r="2.2"/></g>
<g id="r39"><circle cx="555.3" cy="136.3" r="2.2"/></g>
<g id="r40"><circle cx="541.7" cy="114.3" r="2.2"/></g>
<g id="r41"><circle cx="526.7" cy="96" r="2.2"/></g>
<g id="r42"><circle cx="568.7" cy="120.7" r="2.2"/></g>
<g id="r43"><circle cx="555.3" cy="91.7" r="2.2"/></g>
<g id="r44"><circle cx="577" cy="103.3" r="2.2"/></g>
</g>
<g id="labels" class="lb">
<text x="250" y="338.5">A</text>
<text x="239" y="272">B</text>
<text x="262.5" y="288">C</text>
<text x="298.3" y="310">D</text>
<text x="334" y="316.5">E</text>
<text x="364.5" y="316">F</text>
<text x="180" y="230">G</text>
<text x="199.5" y="246.7">H</text>
<text x="222.5" y="260.5">I</text>
</g>
</svg>
